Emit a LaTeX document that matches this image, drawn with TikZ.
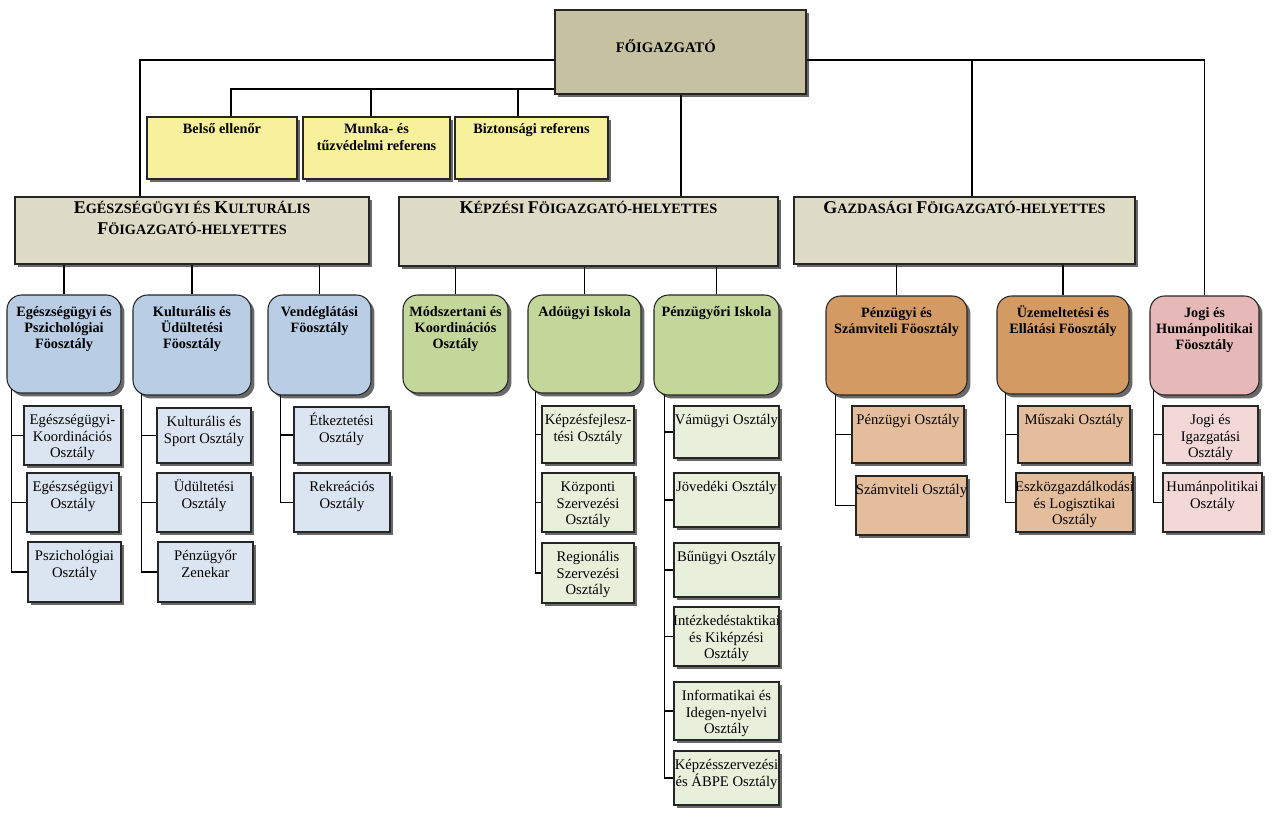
\documentclass[tikz,border=0pt]{standalone}
\usepackage{fontspec}
\setmainfont{Liberation Serif}
\usetikzlibrary{shadows,calc}
\pgfdeclarelayer{bg}
\pgfsetlayers{bg,main}
\definecolor{topc}{RGB}{198,193,161}
\definecolor{yelc}{RGB}{247,240,156}
\definecolor{depc}{RGB}{222,219,199}
\definecolor{bluh}{RGB}{185,205,229}
\definecolor{bluc}{RGB}{219,229,241}
\definecolor{grnh}{RGB}{196,215,155}
\definecolor{grnc}{RGB}{232,239,219}
\definecolor{orah}{RGB}{211,155,99}
\definecolor{orac}{RGB}{228,190,156}
\definecolor{pnkh}{RGB}{230,185,184}
\definecolor{pnkc}{RGB}{242,216,215}
\newcommand\fsc[2]{{\fontsize{13.5pt}{15pt}\selectfont #1}#2}
\newcommand\bx[8]{%
  \node[#1, minimum width={(#6-#4)*0.75pt}, minimum height={(#7-#5)*0.75pt}] (#3) at ({(#4+#6)/2},{(#5+#7)/2}) {};
  \node[#2, anchor=north] (#3t) at (#3.north) {\rule{0pt}{10pt}#8};
}
\begin{document}
\begin{tikzpicture}[x=0.75pt,y=-0.75pt,
  base/.style={draw=black!85, line width=0.8pt, inner sep=0pt,
    drop shadow={shadow xshift=2.6pt, shadow yshift=-2.6pt, opacity=0.65, fill=black!90}},
  topbox/.style={base, fill=topc, line width=1pt},
  ybox/.style={base, fill=yelc},
  dbox/.style={base, fill=depc},
  bh/.style={base, fill=bluh, rounded corners=11pt},
  bc/.style={base, fill=bluc},
  gh/.style={base, fill=grnh, rounded corners=11pt},
  gc/.style={base, fill=grnc},
  oh/.style={base, fill=orah, rounded corners=11pt},
  oc/.style={base, fill=orac},
  ph/.style={base, fill=pnkh, rounded corners=11pt},
  pc/.style={base, fill=pnkc},
  txt/.style={inner sep=0pt, align=center, text=black},
  topt/.style={txt, font=\bfseries\fontsize{11pt}{12pt}\selectfont, yshift=-22pt, xshift=-11pt},
  yt/.style={txt, font=\bfseries\fontsize{10.7pt}{12.75pt}\selectfont, yshift=-2.4pt},
  dt/.style={txt, font=\bfseries\fontsize{10.7pt}{15.75pt}\selectfont, yshift=-2.75pt},
  hdt/.style={txt, font=\bfseries\fontsize{10.7pt}{12pt}\selectfont, yshift=-6.5pt},
  cht/.style={txt, font=\fontsize{11pt}{12.2pt}\selectfont, yshift=-4.25pt},
  conn/.style={draw=black, line width=0.8pt}]
\useasboundingbox (0,0) rectangle (1276,818);
% top
\bx{topbox}{topt}{top}{555}{10}{806}{94}{FŐIGAZGATÓ}
% staff
\bx{ybox}{yt}{y1}{147}{117}{297}{179}{Belső ellenőr}
\bx{ybox}{yt}{y2}{303}{117}{450}{179}{Munka- és\\tűzvédelmi referens}
\bx{ybox}{yt}{y3}{455}{117}{608}{179}{Biztonsági referens}
% deputies
\bx{dbox}{dt}{eh}{15}{197}{369}{264}{\fsc{E}{GÉSZSÉGÜGYI ÉS} \fsc{K}{ULTURÁLIS}\\\fsc{F}{ÖIGAZGATÓ-HELYETTES}}
\bx{dbox}{dt}{kp}{399}{197}{778}{266}{\fsc{K}{ÉPZÉSI} \fsc{F}{ÖIGAZGATÓ-HELYETTES}}
\bx{dbox}{dt}{gz}{794}{197}{1135}{264}{\fsc{G}{AZDASÁGI} \fsc{F}{ÖIGAZGATÓ-HELYETTES}}
% heads
\bx{bh}{hdt}{e1}{7}{295}{121}{393}{Egészségügyi és\\Pszichológiai\\Föosztály}
\bx{bh}{hdt}{e2}{133}{295}{251}{395}{Kulturális és\\Üdültetési\\Föosztály}
\bx{bh}{hdt}{e3}{268}{295}{371}{395}{Vendéglátási\\Föosztály}
\bx{gh}{hdt}{k1}{403}{295}{508}{393}{Módszertani és\\Koordinációs\\Osztály}
\bx{gh}{hdt}{k2}{528}{295}{641}{393}{Adóügyi Iskola}
\bx{gh}{hdt}{k3}{654}{295}{779}{395}{Pénzügyőri Iskola}
\bx{oh}{hdt}{g1}{826}{296}{967}{395}{Pénzügyi és\\Számviteli Föosztály}
\bx{oh}{hdt}{g2}{997}{296}{1129}{394}{Üzemeltetési és\\Ellátási Föosztály}
\bx{ph}{hdt}{j1}{1150}{296}{1259}{395}{Jogi és\\Humánpolitikai\\Föosztály}
% children
\bx{bc}{cht}{e1a}{24}{406}{121}{465}{Egészségügyi-\\Koordinációs\\Osztály}
\bx{bc}{cht}{e1b}{27}{473}{119}{532}{Egészségügyi\\Osztály}
\bx{bc}{cht}{e1c}{28}{542}{121}{602}{Pszichológiai\\Osztály}
\bx{bc}{cht}{e2a}{157}{408}{251}{463}{Kulturális és\\Sport Osztály}
\bx{bc}{cht}{e2b}{157}{473}{251}{532}{Üdültetési\\Osztály}
\bx{bc}{cht}{e2c}{158}{542}{253}{602}{Pénzügyőr\\Zenekar}
\bx{bc}{cht}{e3a}{294}{407}{389}{463}{Étkeztetési\\Osztály}
\bx{bc}{cht}{e3b}{294}{473}{390}{532}{Rekreációs\\Osztály}
\bx{gc}{cht}{k2a}{542}{406}{634}{463}{Képzésfejlesz-\\tési Osztály}
\bx{gc}{cht}{k2b}{542}{473}{634}{532}{Központi\\Szervezési\\Osztály}
\bx{gc}{cht}{k2c}{542}{543}{634}{603}{Regionális\\Szervezési\\Osztály}
\bx{gc}{cht}{k3a}{674}{406}{779}{458}{Vámügyi Osztály}
\bx{gc}{cht}{k3b}{674}{473}{779}{527}{Jövedéki Osztály}
\bx{gc}{cht}{k3c}{674}{543}{779}{597}{Bűnügyi Osztály}
\bx{gc}{cht}{k3d}{674}{607}{779}{666}{Intézkedéstaktikai\\és Kiképzési\\Osztály}
\bx{gc}{cht}{k3e}{674}{682}{779}{740}{Informatikai és\\Idegen-nyelvi\\Osztály}
\bx{gc}{cht}{k3f}{674}{751}{779}{805}{Képzésszervezési\\és ÁBPE Osztály}
\bx{oc}{cht}{g1a}{852}{406}{964}{463}{Pénzügyi Osztály}
\bx{oc}{cht}{g1b}{856}{476}{967}{535}{Számviteli Osztály}
\bx{oc}{cht}{g2a}{1018}{406}{1130}{463}{Műszaki Osztály}
\bx{oc}{cht}{g2b}{1016}{473}{1133}{532}{Eszközgazdálkodási\\és Logisztikai\\Osztály}
\bx{pc}{cht}{j1a}{1163}{406}{1258}{463}{Jogi és\\Igazgatási\\Osztály}
\bx{pc}{cht}{j1b}{1163}{473}{1262}{532}{Humánpolitikai\\Osztály}
% connectors
\begin{pgfonlayer}{bg}
\fill[white] (0,0) rectangle (1276,818);
\coordinate (jg) at (972,60);
\draw[conn] (top.west |- 0,60) -| (eh.north -| 140,0);
\draw[conn] (top.west |- 0,89) -| (y1.north -| 231,0);
\draw[conn] (y2.north -| 371,0) -- (371,89);
\draw[conn] (y3.north -| 518,0) -- (518,89);
\draw[conn] (top.south -| 681,0) -- (kp.north -| 681,0);
\draw[conn] (top.east |- jg) -| (j1.north);
\draw[conn] (jg) -- (gz.north -| jg);
\foreach \h/\d in {e1/eh,e2/eh,e3/eh,k1/kp,k2/kp,k3/kp,g1/gz,g2/gz}
  \draw[conn] (\h.north) -- (\h.north |- \d.south);
\foreach \h/\o/\cs in {e1/5/{e1a,e1b,e1c},e2/9/{e2a,e2b,e2c},e3/13/{e3a,e3b},
  k2/8/{k2a,k2b,k2c},k3/11/{k3a,k3b,k3c,k3d,k3e,k3f},g1/10/{g1a,g1b},
  g2/9/{g2a,g2b},j1/4/{j1a,j1b}}
  \foreach \c in \cs
    \draw[conn] ([shift={(\o,-12)}]\h.south west) |- (\c.west);
\end{pgfonlayer}
\end{tikzpicture}
\end{document}
